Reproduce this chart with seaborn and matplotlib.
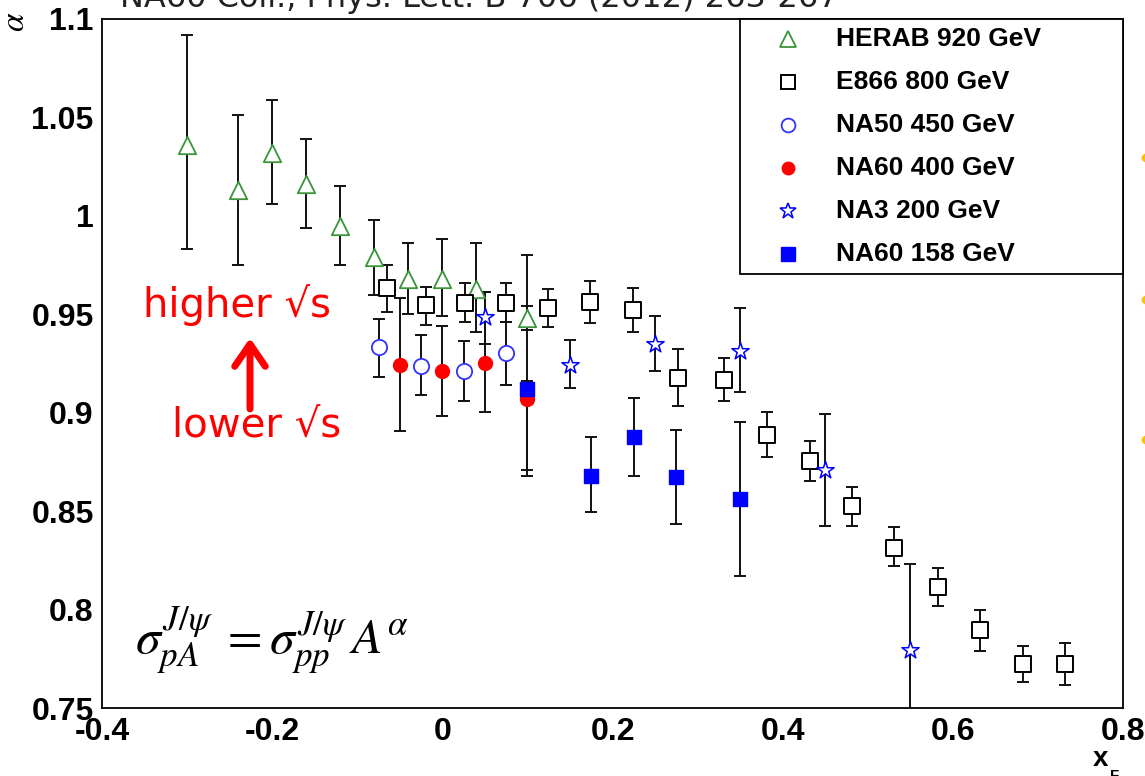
import matplotlib
matplotlib.use("Agg")
import matplotlib.pyplot as plt
import seaborn as sns
import pandas as pd
from matplotlib.ticker import MultipleLocator, FixedFormatter, FixedLocator
from matplotlib.patches import Rectangle, Circle

# ---------------- data ----------------
herab_x = [-0.30, -0.24, -0.20, -0.16, -0.12, -0.08, -0.04, 0.00, 0.04, 0.10]
herab_y = [1.036, 1.013, 1.032, 1.016, 0.995, 0.979, 0.968, 0.968, 0.963, 0.948]
herab_lo = [0.053, 0.038, 0.026, 0.022, 0.020, 0.019, 0.018, 0.019, 0.022, 0.006]
herab_hi = [0.056, 0.038, 0.027, 0.023, 0.020, 0.019, 0.018, 0.020, 0.023, 0.006]

e866_x = [-0.065, -0.019, 0.027, 0.075, 0.124, 0.174, 0.224, 0.277, 0.331, 0.381,
          0.432, 0.481, 0.531, 0.582, 0.632, 0.683, 0.732]
e866_y = [0.9636, 0.9545, 0.9558, 0.9558, 0.9534, 0.9560, 0.9521, 0.9176, 0.9167, 0.8885,
          0.8756, 0.8528, 0.8315, 0.8117, 0.7895, 0.7726, 0.7726]
e866_lo = [0.0126, 0.0100, 0.0096, 0.0098, 0.0101, 0.0105, 0.0111, 0.0140, 0.0107, 0.0110,
           0.0101, 0.0102, 0.0095, 0.0097, 0.0103, 0.0096, 0.0110]
e866_hi = [0.0114, 0.0093, 0.0100, 0.0100, 0.0096, 0.0107, 0.0115, 0.0149, 0.0113, 0.0118,
           0.0102, 0.0095, 0.0103, 0.0093, 0.0103, 0.0088, 0.0104]

na50_x = [-0.075, -0.025, 0.025, 0.075]
na50_y = [0.9332, 0.9239, 0.9210, 0.9303]
na50_lo = [0.0152, 0.0149, 0.0153, 0.0161]
na50_hi = [0.0145, 0.0155, 0.0154, 0.0160]

na60a_x = [-0.05, 0.00, 0.05, 0.10]
na60a_y = [0.9244, 0.9213, 0.9252, 0.9070]
na60a_lo = [0.0339, 0.0232, 0.0247, 0.0390]
na60a_hi = [0.0341, 0.0229, 0.0361, 0.0730]

na3_x = [0.05, 0.15, 0.25, 0.35, 0.45, 0.55]
na3_y = [0.9486, 0.9244, 0.9350, 0.9316, 0.8710, 0.7797]
na3_lo = [0.0137, 0.0117, 0.0140, 0.0213, 0.0284, 0.0600]
na3_hi = [0.0128, 0.0126, 0.0142, 0.0214, 0.0286, 0.0437]

na60b_x = [0.100, 0.175, 0.225, 0.275, 0.350]
na60b_y = [0.9120, 0.8678, 0.8875, 0.8674, 0.8562]
na60b_lo = [0.0410, 0.0184, 0.0198, 0.0241, 0.0389]
na60b_hi = [0.0042, 0.0197, 0.0198, 0.0238, 0.0389]

x_ticks = [-0.4, -0.2, 0.0, 0.2, 0.4, 0.6, 0.8]
x_tick_labels = ["-0.4", "-0.2", "0", "0.2", "0.4", "0.6", "0.8"]
y_ticks = [0.75, 0.80, 0.85, 0.90, 0.95, 1.00, 1.05, 1.10]
y_tick_labels = ["0.75", "0.8", "0.85", "0.9", "0.95", "1", "1.05", "1.1"]

# ---------------- style ----------------
W, H = 1145, 776
sns.set_theme(style="white")
plt.rcParams["font.family"] = ["Liberation Sans", "DejaVu Sans"]
plt.rcParams["mathtext.fontset"] = "stix"

fig = plt.figure(figsize=(W / 100, H / 100), dpi=100)
fig.patch.set_facecolor("white")
L, R, T, B = 102, 1123, 19, 708
ax = fig.add_axes([L / W, 1 - B / H, (R - L) / W, (B - T) / H])
ax.set_facecolor("white")

def axx(px):
    return (px - L) / (R - L)

def axy(py):
    return (B - py) / (B - T)

green = "#3a953a"
blue = "#0000ff"
red = "#ff0000"

series = [
    dict(name="HERAB 920 GeV", x=herab_x, y=herab_y, lo=herab_lo, hi=herab_hi,
         marker="^", fc="white", ec=green, ms=12.5, mew=1.3),
    dict(name="E866 800 GeV", x=e866_x, y=e866_y, lo=e866_lo, hi=e866_hi,
         marker="s", fc="white", ec="black", ms=11, mew=1.4),
    dict(name="NA50 450 GeV", x=na50_x, y=na50_y, lo=na50_lo, hi=na50_hi,
         marker="o", fc="white", ec="#3333ff", ms=11, mew=1.3),
    dict(name="NA60 400 GeV", x=na60a_x, y=na60a_y, lo=na60a_lo, hi=na60a_hi,
         marker="o", fc=red, ec=red, ms=10, mew=1.0),
    dict(name="NA3 200 GeV", x=na3_x, y=na3_y, lo=na3_lo, hi=na3_hi,
         marker="*", fc="white", ec=blue, ms=13, mew=1.1),
    dict(name="NA60 158 GeV", x=na60b_x, y=na60b_y, lo=na60b_lo, hi=na60b_hi,
         marker="s", fc=blue, ec=blue, ms=10.5, mew=1.0),
]

for s in series:
    ax.errorbar(s["x"], s["y"], yerr=[s["lo"], s["hi"]], fmt="none",
                ecolor="#111111", elinewidth=1.4, capsize=4.5, capthick=1.4, zorder=2)

for s in series:
    df = pd.DataFrame({"xF": s["x"], "alpha": s["y"]})
    sns.scatterplot(data=df, x="xF", y="alpha", ax=ax, marker=s["marker"],
                    s=s["ms"] ** 2, facecolor=s["fc"], edgecolor=s["ec"],
                    linewidth=s["mew"], zorder=3, legend=False)

ax.set_xlim(-0.4, 0.8)
ax.set_ylim(0.75, 1.10)
ax.set_xlabel("")
ax.set_ylabel("")

ax.xaxis.set_major_locator(FixedLocator(x_ticks))
ax.xaxis.set_major_formatter(FixedFormatter(x_tick_labels))
ax.xaxis.set_minor_locator(MultipleLocator(0.05))
ax.yaxis.set_major_locator(FixedLocator(y_ticks))
ax.yaxis.set_major_formatter(FixedFormatter(y_tick_labels))
ax.yaxis.set_minor_locator(MultipleLocator(0.01))

for sp in ax.spines.values():
    sp.set_color("black")
    sp.set_linewidth(1.3)

ax.tick_params(axis="both", which="both", direction="in", colors="black",
               top=False, right=False)
ax.tick_params(axis="x", which="major", length=15, width=1.0, pad=6.5)
ax.tick_params(axis="x", which="minor", length=8, width=1.0)
ax.tick_params(axis="y", which="major", length=22, width=1.0, pad=6)
ax.tick_params(axis="y", which="minor", length=11, width=1.0)
for lab in ax.get_xticklabels() + ax.get_yticklabels():
    lab.set_fontsize(23)
    lab.set_fontweight("bold")
    lab.set_color("black")

# ---------------- legend (manual) ----------------
ax.add_patch(Rectangle((axx(740), axy(274)), axx(R) - axx(740), axy(T) - axy(274),
                       transform=ax.transAxes, facecolor="white", edgecolor="black",
                       linewidth=1.3, zorder=5, clip_on=False))
rows = [39, 82, 125, 168, 211, 254]
for s, ry in zip(series, rows):
    ax.plot([axx(788)], [axy(ry)], marker=s["marker"], markersize=s["ms"] * 0.9,
            markerfacecolor=s["fc"], markeredgecolor=s["ec"], markeredgewidth=s["mew"],
            linestyle="none", transform=ax.transAxes, zorder=6, clip_on=False)
    ax.text(axx(836), axy(ry), s["name"], transform=ax.transAxes, fontsize=19,
            fontweight="bold", va="center", ha="left", color="black", zorder=6)

# ---------------- annotations ----------------
fig.text(120 / W, 1 - 7 / H, "NA60 Coll., Phys. Lett. B 706 (2012) 263-267",
         fontsize=23, family="DejaVu Sans", color="#222222", ha="left", va="baseline")

fig.text(16 / W, 1 - 22 / H, r"$\alpha$", fontsize=24, rotation=90,
         ha="center", va="center", color="black")

fig.text(1093 / W, 1 - 766 / H, "x", fontsize=20, fontweight="bold",
         ha="left", va="baseline", color="black")
fig.text(1110 / W, 1 - 780 / H, "F", fontsize=11, fontweight="bold",
         ha="left", va="baseline", color="black")

fig.text(143 / W, 1 - 317 / H, "higher \u221as", fontsize=29, family="DejaVu Sans",
         color=red, ha="left", va="baseline")
fig.text(172 / W, 1 - 438 / H, "lower \u221as", fontsize=29, family="DejaVu Sans",
         color=red, ha="left", va="baseline")
ax.annotate("", xy=(250, H - 338), xytext=(250, H - 409), xycoords="figure pixels",
            textcoords="figure pixels",
            arrowprops=dict(arrowstyle="->,head_length=0.8,head_width=0.55", lw=5,
                            color=red, shrinkA=0, shrinkB=0, mutation_scale=20))

fig.text(135 / W, 1 - 640 / H,
         r"$\sigma_{pA}^{J/\psi}\;=\sigma_{pp}^{J/\psi}\,A^{\alpha}$",
         fontsize=36, color="black", ha="left", va="center")

for cy in (158, 300, 440):
    fig.add_artist(Circle((1149 / W, 1 - cy / H), 7.5 / W, transform=fig.transFigure,
                          facecolor="#ffc000", edgecolor="none"))

fig.savefig("out.png", dpi=100, facecolor="white")
